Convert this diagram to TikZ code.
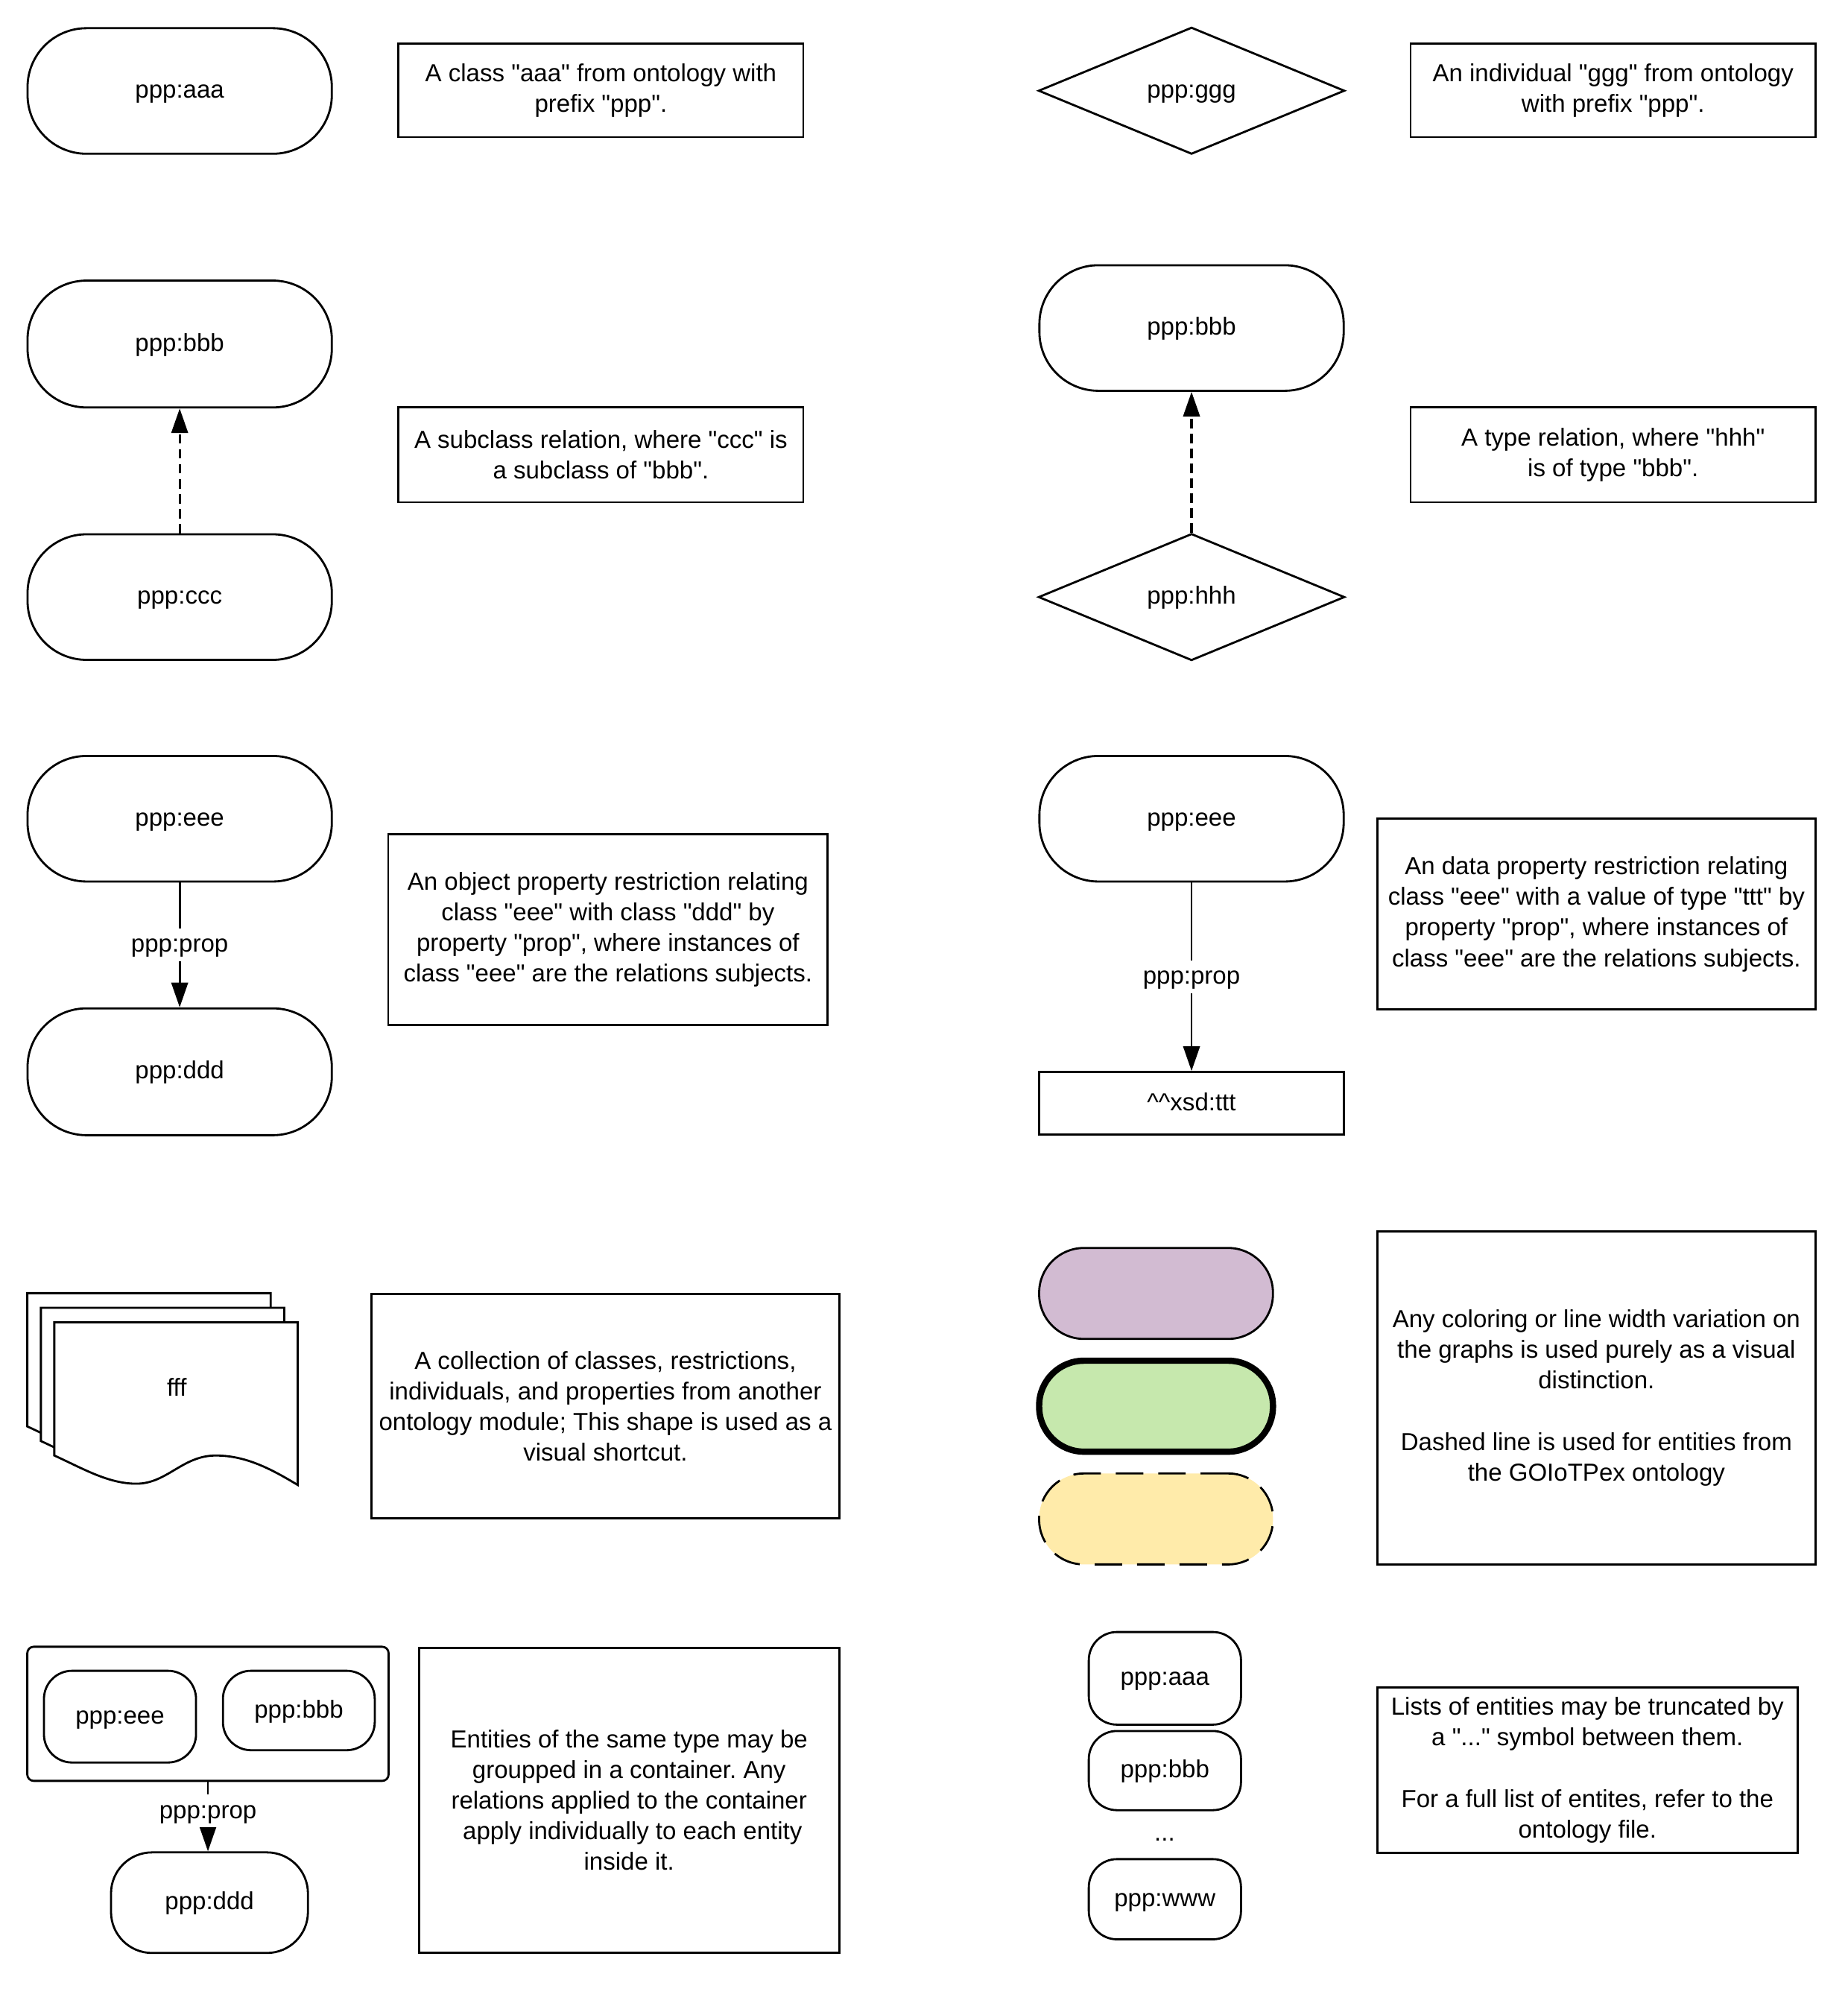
\documentclass[tikz,border=0pt]{standalone}
\usepackage{fontspec}
\newfontfamily\legendfam{Liberation Sans}
\usetikzlibrary{shapes.geometric,arrows.meta}
\frenchspacing

\newcommand{\ux}{0.0172cm}
\newcommand{\legendfont}{\legendfam\fontsize{9.4}{11.7}\selectfont}
\definecolor{lilac}{HTML}{D2BBD2}
\definecolor{mint}{HTML}{C6E8AD}
\definecolor{butter}{HTML}{FFEBAA}

% one sheet of the stacked-documents symbol, top-left corner at (#1,#2)
\newcommand{\docpage}[2]{%
  \begin{scope}[shift={(#1,#2)}]
    \filldraw[fill=white] (0,0) -- (190,0) -- (190,127)
      .. controls (170,115) and (150,104) .. (126,104)
      .. controls (100,104) and (88,126) .. (64,126)
      .. controls (42,126) and (22,114) .. (0,104) -- cycle;
  \end{scope}}

\tikzset{
  shp/.style={draw, inner sep=0pt, font=\legendfont, align=center},
  sz/.style 2 args={minimum width=#1*\ux, minimum height=#2*\ux},
  oneline/.style={text height=.75em, text depth=.2em},
  pill/.style={shp, oneline, rounded corners=#1*\ux},
  pill/.default=46,
  gem/.style={shp, oneline, diamond},
  note/.style={shp},
  lab/.style={fill=white, font=\legendfont, oneline, inner xsep=1pt, inner ysep=1.5pt},
  tip/.style={-{Triangle[width=6.3pt,length=9.4pt]}},
  subrel/.style={tip, line width=0.9pt, dash pattern=on 3.6pt off 2.1pt},
}

\begin{document}
\begin{tikzpicture}[x=0.0172cm, y=-0.0172cm, line width=0.8pt]
\useasboundingbox (0,0) rectangle (1442,1568);
\fill[white] (0,0) rectangle (1442,1568);

% ---- classes and individuals
\node[pill, sz={237.5}{98}] (aaa) at (140.25,71) {ppp:aaa};
\node[note, sz={316}{73}] (tA) at (469,70.5) {A class "aaa" from ontology with\\prefix "ppp".};
\node[gem, sz={239}{99}] (ggg) at (930,70.8) {ppp:ggg};
\node[note, sz={316}{73}] (tG) at (1259,70.5) {An individual "ggg" from ontology\\with prefix "ppp".};

% ---- subclass and type relations
\node[pill, sz={237.5}{99}] (bbb) at (140.25,268.5) {ppp:bbb};
\node[pill, sz={237.5}{98}] (ccc) at (140.25,466) {ppp:ccc};
\draw[subrel] (ccc.north) -- (bbb.south);
\node[note, sz={316}{74}] (tS) at (469,355) {A subclass relation, where "ccc" is\\a subclass of "bbb".};

\node[pill, sz={237.5}{98}] (tb) at (930,256) {ppp:bbb};
\node[gem, sz={239}{99}] (hhh) at (930,466) {ppp:hhh};
\draw[subrel] (hhh.north) -- (tb.south);
\node[note, sz={316}{74}] (tT) at (1259,355) {A type relation, where "hhh"\\is of type "bbb".};

% ---- object and data property restrictions
\node[pill, sz={237.5}{98}] (eee) at (140.25,639) {ppp:eee};
\node[pill, sz={237.5}{99}] (ddd) at (140.25,836.5) {ppp:ddd};
\draw[tip] (eee.south) -- node[lab] {ppp:prop} (ddd.north);
\node[note, sz={343}{149}] (tO) at (474.5,725.5) {An object property restriction relating\\class "eee" with class "ddd" by\\property "prop", where instances of\\class "eee" are the relations subjects.};

\node[pill, sz={237.5}{98}] (reee) at (930,639) {ppp:eee};
\node[shp, oneline, sz={237.5}{49}] (ttt) at (930,861.2) {\textasciicircum\textasciicircum xsd:ttt};
\draw[tip] (reee.south) -- node[lab] {ppp:prop} (ttt.north);
\node[note, sz={342}{149}] (tD) at (1246,713.5) {An data property restriction relating\\class "eee" with a value of type "ttt" by\\property "prop", where instances of\\class "eee" are the relations subjects.};

% ---- external module shortcut
\docpage{21.3}{1009.3}
\docpage{31.9}{1020.7}
\docpage{42.4}{1032}
\node[font=\legendfont] (fff) at (138,1082.5) {fff};
\node[note, sz={365}{175}] (tC) at (472.5,1097.5) {A collection of classes, restrictions,\\individuals, and properties from another\\ontology module; This shape is used as a\\visual shortcut.};

% ---- visual variations
\node[pill=35, sz={182.5}{71}, fill=lilac] (lil) at (902.3,1009.5) {};
\node[pill=35, sz={182.5}{71}, fill=mint, line width=2.4pt] (mnt) at (902.3,1097.5) {};
\node[pill=35, sz={182.5}{71}, fill=butter, dash pattern=on 10.5pt off 5.7pt] (but) at (902.3,1185.5) {};
\node[note, sz={342}{260}] (tV) at (1246,1091) {Any coloring or line width variation on\\the graphs is used purely as a visual\\distinction.\\[11.7pt]Dashed line is used for entities from\\the GOIoTPex ontology};

% ---- containers
\node[shp, sz={282}{104.7}, rounded corners=5*\ux] (grp) at (162.3,1337.6) {};
\node[pill=22, sz={118.7}{71.6}] (geee) at (93.65,1339.8) {ppp:eee};
\node[pill=22, sz={118.5}{62}] (gbbb) at (233.25,1335) {ppp:bbb};
\node[pill=32, sz={153.7}{78.5}] (gddd) at (163.5,1485) {ppp:ddd};
\draw[tip] (grp.south) -- node[lab, pos=.42] {ppp:prop} (grp.south |- gddd.north);
\node[note, sz={328}{238}] (tE) at (491,1405) {Entities of the same type may be\\groupped in a container. Any\\relations applied to the container\\\hspace*{.28em}apply individually to each entity\\inside it.};

% ---- truncated lists
\node[pill=22, sz={118.8}{72.3}] (la) at (909.2,1309.9) {ppp:aaa};
\node[pill=22, sz={118.8}{61.8}] (lb) at (909.2,1381.9) {ppp:bbb};
\node[font=\legendfont, anchor=base, inner sep=0pt] (ldots) at (909,1437) {...};
\node[pill=22, sz={118.8}{62.6}] (lw) at (909.2,1482.3) {ppp:www};
\node[note, sz={328}{129}] (tL) at (1239,1381.5) {Lists of entities may be truncated by\\a "..." symbol between them.\\[11.7pt]For a full list of entites, refer to the\\ontology file.};
\end{tikzpicture}
\end{document}
